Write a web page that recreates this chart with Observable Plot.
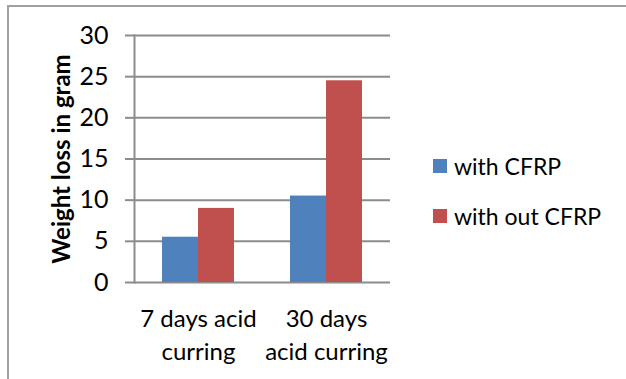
<!DOCTYPE html>
<html>
<head>
<meta charset="utf-8">
<script src="https://cdn.jsdelivr.net/npm/d3@7"></script>
<script src="https://cdn.jsdelivr.net/npm/@observablehq/plot@0.6"></script>
<style>
  html, body { margin: 0; padding: 0; background: #fff; }
  #chart { position: relative; width: 626px; height: 379px; overflow: hidden; font-family: Lato, "Open Sans", sans-serif; }
  #chart .edge { position: absolute; left: 7px; top: 5px; width: 700px; height: 400px;
    border-left: 2px solid #a0a0a0; border-top: 2px solid #a0a0a0; }
  #chart svg.main { position: absolute; left: 0; top: 0; }
  #legend { position: absolute; left: 433px; top: 152px; }
  #legend .lg-swatches { font-family: Lato, sans-serif; font-size: 23px; color: #000; }
  #legend .lg-swatch { margin-bottom: 21px; display: flex; align-items: center; }
  #legend .lg-swatch > svg { margin-right: 7px !important; }
</style>
</head>
<body>
<div id="chart"><div class="edge"></div></div>
<script>
// Weight loss after acid curing, with and without CFRP wrapping
const categories = ["7 days acid\ncurring", "30 days\nacid curring"];
const seriesNames = ["with CFRP", "with out CFRP"];
const withCFRP = [5.5, 10.5];
const withoutCFRP = [9, 24.5];
const yTicks = [0, 5, 10, 15, 20, 25, 30];
const colors = ["#4F81BD", "#C0504D"];
const yLabel = "Weight loss in gram";

const rows = categories.flatMap((c, i) => [
  {category: c, series: seriesNames[0], value: withCFRP[i]},
  {category: c, series: seriesNames[1], value: withoutCFRP[i]}
]);

const gray = "#8c8c8c";

const chart = Plot.plot({
  width: 626,
  height: 379,
  marginLeft: 134,
  marginRight: 236,
  marginTop: 35,
  marginBottom: 97,
  className: "main",
  style: {fontFamily: "Lato, sans-serif", fontSize: "24px", background: "transparent", color: "#000"},
  fx: {domain: categories, padding: 0, label: null},
  x: {domain: seriesNames, paddingInner: 0, paddingOuter: 0.73, axis: null},
  y: {domain: [0, 30], ticks: yTicks},
  color: {domain: seriesNames, range: colors},
  marks: [
    Plot.gridY(yTicks, {stroke: gray, strokeOpacity: 1, strokeWidth: 2}),
    Plot.frame({anchor: "left", facetAnchor: "left", stroke: gray, strokeWidth: 2}),
    Plot.axisY(yTicks, {tickSize: 9, tickPadding: 17, stroke: gray, strokeWidth: 2, label: null, fill: "#000", fontSize: 25}),
    Plot.axisY(yTicks, {tickSize: 0, tickFormat: () => "", label: yLabel, labelAnchor: "center",
      labelArrow: "none", labelOffset: 82, fontWeight: "bold", fontSize: 24}),
    Plot.barY(rows, {fx: "category", x: "series", y: "value", fill: "series"}),
    Plot.axisFx({anchor: "bottom", tickSize: 0, tickPadding: 21, lineHeight: 1.37, label: null, fill: "#000"})
  ]
});
document.getElementById("chart").appendChild(chart);

const legend = Plot.legend({
  color: {domain: seriesNames, range: colors},
  legend: "swatches",
  columns: 1,
  swatchSize: 14,
  className: "lg"
});
const holder = document.createElement("div");
holder.id = "legend";
holder.appendChild(legend);
document.getElementById("chart").appendChild(holder);
</script>
</body>
</html>
